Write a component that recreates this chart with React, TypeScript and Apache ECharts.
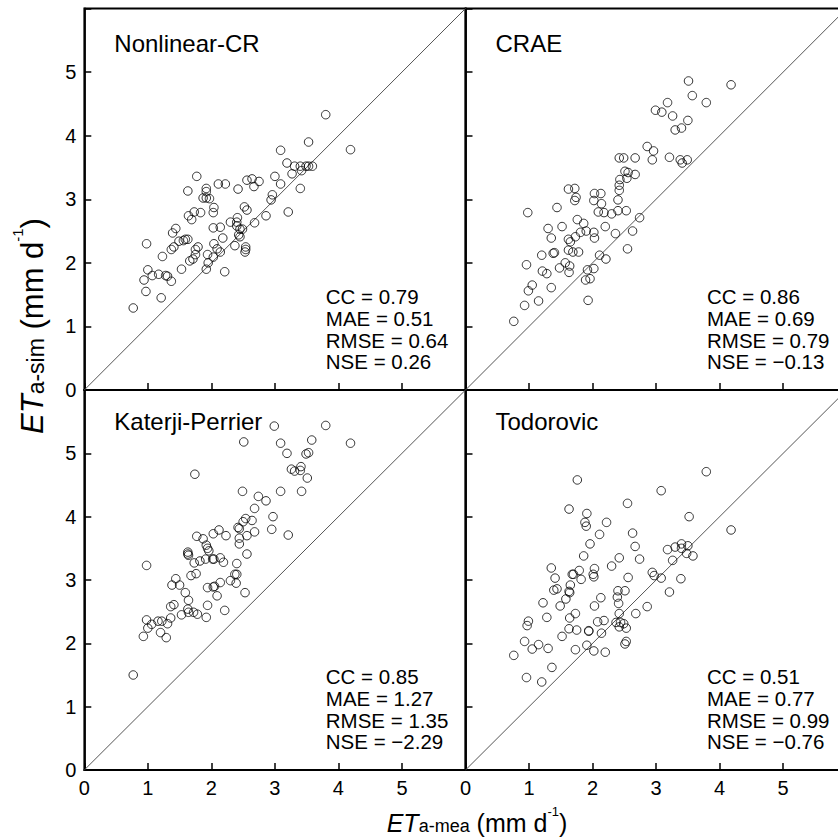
import React, { useEffect, useRef } from 'react';
import * as echarts from 'echarts';

const FONT = '"Liberation Sans", Arial, Helvetica, sans-serif';

const panelNames = ['Nonlinear-CR', 'CRAE', 'Katerji-Perrier', 'Todorovic'];
const statLabels = ['CC', 'MAE', 'RMSE', 'NSE'];
const statValues = [
  ['0.79', '0.51', '0.64', '0.26'],
  ['0.86', '0.69', '0.79', '\u22120.13'],
  ['0.85', '1.27', '1.35', '\u22122.29'],
  ['0.51', '0.77', '0.99', '\u22120.76'],
];
const axisTicks = [0, 1, 2, 3, 4, 5];
const oneToOne = [[0, 0], [6, 6]];

const nonlinearCR = [
  [3.80, 4.33], [4.19, 3.78], [3.53, 3.90], [3.09, 3.77], [3.19, 3.57], [3.31, 3.52], [3.40, 3.52], [3.49, 3.52],
  [3.53, 3.52], [3.59, 3.52], [3.42, 3.45], [3.27, 3.40], [3.40, 3.17], [3.00, 3.36], [3.09, 3.24], [2.96, 3.07],
  [2.94, 2.99], [3.21, 2.80], [2.86, 2.74], [2.68, 2.63], [2.56, 3.30], [2.64, 3.32], [2.75, 3.28], [2.67, 3.20],
  [2.42, 3.16], [2.11, 3.24], [2.22, 3.24], [1.77, 3.36], [1.63, 3.13], [1.92, 3.17], [1.92, 3.12], [1.87, 3.02],
  [1.92, 3.02], [1.97, 3.01], [2.04, 2.87], [2.03, 2.79], [2.52, 2.88], [2.56, 2.83], [1.83, 2.79], [1.73, 2.80],
  [1.64, 2.74], [1.69, 2.68], [2.03, 2.55], [2.14, 2.56], [2.30, 2.64], [2.41, 2.71], [2.40, 2.64], [2.40, 2.58],
  [2.45, 2.53], [2.49, 2.53], [2.43, 2.44], [2.45, 2.41], [2.18, 2.39], [1.44, 2.54], [1.39, 2.47], [1.59, 2.37],
  [1.63, 2.37], [1.56, 2.35], [1.49, 2.34], [1.41, 2.25], [1.37, 2.21], [1.79, 2.25], [1.75, 2.21], [1.75, 2.13],
  [1.71, 2.06], [1.66, 2.03], [1.23, 2.10], [0.98, 2.30], [2.04, 2.30], [2.09, 2.22], [2.14, 2.17], [1.94, 2.13],
  [1.95, 2.00], [2.03, 2.09], [2.37, 2.27], [2.54, 2.25], [2.54, 2.21], [2.53, 2.17], [1.92, 1.90], [2.21, 1.86],
  [1.53, 1.90], [1.00, 1.89], [0.94, 1.73], [1.07, 1.80], [1.17, 1.82], [1.28, 1.80], [1.31, 1.79], [1.37, 1.71],
  [0.97, 1.55], [1.21, 1.45], [0.77, 1.29],
];

const crae = [
  [3.51, 4.86], [4.18, 4.80], [3.57, 4.63], [3.79, 4.52], [3.18, 4.52], [2.99, 4.40], [3.09, 4.37], [3.26, 4.31],
  [3.50, 4.24], [3.40, 4.12], [3.30, 4.09], [2.86, 3.83], [2.96, 3.76], [2.94, 3.62], [3.21, 3.66], [3.38, 3.62],
  [3.41, 3.57], [3.49, 3.62], [2.42, 3.65], [2.49, 3.65], [2.67, 3.65], [2.51, 3.44], [2.56, 3.42], [2.67, 3.39],
  [2.54, 3.33], [2.43, 3.31], [2.42, 3.22], [2.42, 3.14], [2.40, 2.99], [1.62, 3.16], [1.72, 3.17], [1.74, 3.03],
  [1.72, 2.98], [0.98, 2.79], [1.44, 2.87], [2.03, 3.09], [2.13, 3.09], [2.02, 2.98], [2.14, 2.93], [2.09, 2.80],
  [2.18, 2.79], [2.30, 2.77], [2.40, 2.82], [2.53, 2.82], [2.74, 2.71], [2.63, 2.50], [2.55, 2.22], [2.36, 2.46],
  [2.20, 2.57], [1.76, 2.68], [1.86, 2.62], [1.81, 2.48], [1.90, 2.50], [2.02, 2.48], [2.03, 2.39], [1.52, 2.57],
  [1.30, 2.54], [1.35, 2.39], [1.62, 2.37], [1.65, 2.33], [1.73, 2.41], [1.62, 2.20], [1.69, 2.17], [1.78, 2.17],
  [1.20, 2.12], [1.38, 2.15], [1.40, 2.16], [0.96, 1.97], [1.57, 2.00], [1.64, 1.95], [1.48, 1.92], [1.63, 1.85],
  [1.21, 1.87], [1.28, 1.83], [2.11, 2.12], [2.21, 2.06], [1.92, 1.89], [2.02, 1.91], [1.89, 1.73], [1.96, 1.75],
  [1.05, 1.65], [0.99, 1.56], [1.35, 1.61], [1.15, 1.40], [0.93, 1.33], [1.93, 1.41], [0.76, 1.08],
];

const katerjiPerrier = [
  [2.99, 5.43], [3.80, 5.44], [3.58, 5.21], [4.19, 5.16], [2.51, 5.18], [3.09, 5.16], [3.19, 5.00], [3.49, 4.99],
  [3.53, 5.01], [3.26, 4.75], [3.31, 4.72], [3.41, 4.79], [3.40, 4.73], [3.51, 4.61], [1.74, 4.67], [2.49, 4.40],
  [3.09, 4.40], [3.42, 4.40], [2.74, 4.32], [2.86, 4.25], [2.68, 4.13], [2.97, 4.00], [2.95, 3.80], [3.21, 3.71],
  [2.54, 3.97], [2.64, 3.94], [2.50, 3.92], [2.42, 3.83], [2.44, 3.81], [2.56, 3.70], [2.68, 3.76], [2.44, 3.66],
  [2.44, 3.57], [2.56, 3.41], [2.40, 3.26], [1.77, 3.69], [1.87, 3.65], [2.03, 3.73], [2.12, 3.79], [2.23, 3.70],
  [1.92, 3.55], [1.94, 3.50], [1.96, 3.46], [1.63, 3.44], [1.63, 3.41], [1.64, 3.39], [1.73, 3.27], [1.82, 3.30],
  [1.91, 3.33], [2.02, 3.33], [2.04, 3.33], [2.14, 3.35], [2.19, 3.28], [0.98, 3.23], [1.68, 3.07], [1.76, 3.10],
  [1.44, 3.02], [1.38, 2.92], [1.50, 2.92], [1.59, 2.80], [1.64, 2.68], [1.94, 2.88], [2.03, 2.89], [2.05, 2.90],
  [2.14, 2.96], [2.09, 2.75], [2.30, 2.99], [2.37, 3.09], [2.40, 3.09], [2.39, 2.95], [2.53, 2.80], [2.21, 2.52],
  [1.36, 2.58], [1.41, 2.61], [1.63, 2.54], [1.64, 2.49], [1.72, 2.49], [1.78, 2.46], [1.92, 2.41], [1.94, 2.60],
  [1.53, 2.45], [1.36, 2.40], [1.31, 2.31], [1.22, 2.35], [1.16, 2.35], [1.06, 2.30], [0.98, 2.37], [1.00, 2.24],
  [0.93, 2.11], [1.20, 2.17], [1.29, 2.09], [0.77, 1.50],
];

const todorovic = [
  [3.79, 4.71], [1.76, 4.58], [3.08, 4.41], [2.55, 4.21], [1.63, 4.12], [1.91, 4.05], [3.52, 4.00], [1.88, 3.91],
  [1.90, 3.85], [2.22, 3.91], [4.18, 3.79], [2.11, 3.72], [2.63, 3.74], [1.96, 3.57], [2.67, 3.53], [1.86, 3.38],
  [2.42, 3.35], [2.74, 3.33], [3.18, 3.48], [3.30, 3.52], [3.40, 3.57], [3.50, 3.54], [3.40, 3.50], [3.48, 3.42],
  [3.58, 3.38], [3.26, 3.31], [2.30, 3.22], [1.35, 3.19], [1.41, 3.03], [1.79, 3.15], [1.70, 3.09], [1.68, 3.09],
  [1.82, 3.01], [2.03, 3.18], [2.01, 3.09], [2.02, 3.05], [2.94, 3.12], [2.97, 3.07], [3.08, 3.03], [3.39, 3.02],
  [3.21, 2.81], [2.56, 3.04], [1.65, 2.92], [1.39, 2.84], [1.44, 2.86], [1.63, 2.82], [1.64, 2.80], [1.58, 2.70],
  [1.49, 2.59], [1.22, 2.64], [2.40, 2.83], [2.51, 2.83], [2.39, 2.73], [2.41, 2.63], [2.13, 2.72], [2.03, 2.59],
  [2.86, 2.58], [1.28, 2.41], [1.73, 2.47], [1.64, 2.40], [2.68, 2.47], [0.99, 2.35], [0.97, 2.28], [2.08, 2.34],
  [2.18, 2.36], [2.42, 2.47], [2.37, 2.33], [2.44, 2.33], [2.49, 2.31], [2.42, 2.26], [2.53, 2.24], [2.14, 2.16],
  [1.63, 2.23], [1.75, 2.21], [1.94, 2.20], [1.94, 2.19], [1.52, 2.11], [0.93, 2.03], [1.15, 1.98], [1.05, 1.91],
  [1.30, 1.92], [0.76, 1.81], [1.91, 1.97], [1.73, 1.90], [2.02, 1.88], [2.20, 1.86], [2.53, 2.03], [2.51, 1.99],
  [1.36, 1.62], [0.96, 1.46], [1.20, 1.39],
];

const panelData = [nonlinearCR, crae, katerjiPerrier, todorovic];

export default function App() {
  const ref = useRef<HTMLDivElement>(null);

  useEffect(() => {
    if (!ref.current) return;
    const chart = echarts.init(ref.current, null, { renderer: 'svg' });

    const boxes = [
      { left: 84.3, top: 8.5, width: 381.2, height: 381.5 },
      { left: 465.5, top: 8.5, width: 381.2, height: 381.5 },
      { left: 84.3, top: 390, width: 381.2, height: 380 },
      { left: 465.5, top: 390, width: 381.2, height: 380 },
    ];
    const titleY = [43, 43, 421.5, 421.5];

    const labelFmt = (v: number) => (axisTicks.indexOf(v) >= 0 ? String(v) : '');

    const grid = boxes.map((b) => ({
      ...b,
      show: true,
      borderColor: '#000',
      borderWidth: 1.8,
      backgroundColor: 'transparent',
      containLabel: false,
    }));

    const axisCommon = (i: number, showLabel: boolean) => ({
      type: 'value',
      gridIndex: i,
      min: 0,
      max: 6,
      interval: 1,
      axisLine: { show: true, onZero: false, lineStyle: { color: '#000', width: 1.8 } },
      axisTick: { show: true, inside: true, length: 7, lineStyle: { color: '#000', width: 1.5 } },
      axisLabel: {
        show: showLabel,
        formatter: labelFmt,
        margin: 8,
        fontSize: 20,
        color: '#000',
        fontFamily: FONT,
      },
      splitLine: { show: false },
    });

    const xAxis = boxes.map((_, i) => axisCommon(i, i >= 2));
    const yAxis = boxes.map((_, i) => axisCommon(i, i % 2 === 0));

    const series: any[] = [];
    panelData.forEach((d, i) => {
      series.push({
        type: 'line',
        xAxisIndex: i,
        yAxisIndex: i,
        data: oneToOne,
        symbol: 'none',
        lineStyle: { color: '#555', width: 1 },
        silent: true,
        z: 1,
      });
      series.push({
        type: 'scatter',
        name: panelNames[i],
        xAxisIndex: i,
        yAxisIndex: i,
        data: d,
        symbol: 'circle',
        symbolSize: 8.5,
        itemStyle: { color: 'rgba(0,0,0,0)', borderColor: '#000', borderWidth: 1 },
        z: 3,
      });
    });

    const graphics: any[] = [];
    boxes.forEach((b, i) => {
      graphics.push({
        type: 'text',
        x: b.left + 30,
        y: titleY[i],
        style: {
          text: panelNames[i],
          fontSize: 24,
          fontFamily: FONT,
          fill: '#000',
          verticalAlign: 'middle',
          align: 'left',
        },
      });
      const bottom = b.top + b.height;
      graphics.push({
        type: 'text',
        x: b.left + 241.5,
        y: bottom - 104,
        style: {
          text: statLabels.map((l, k) => `${l} = ${statValues[i][k]}`).join('\n'),
          fontSize: 20.5,
          lineHeight: 21.7,
          fontFamily: FONT,
          fill: '#000',
          verticalAlign: 'top',
          align: 'left',
        },
      });
    });

    const richTitle = (big: number, small: number, sup: number) => ({
      et: { fontSize: big, fontStyle: 'italic', fontFamily: FONT, fill: '#000', verticalAlign: 'bottom', lineHeight: big * 1.2 },
      sub: { fontSize: small, fontFamily: FONT, fill: '#000', verticalAlign: 'bottom', lineHeight: small * 1.2 + big * 0.05 },
      n: { fontSize: big, fontFamily: FONT, fill: '#000', verticalAlign: 'bottom', lineHeight: big * 1.2 },
      sup: { fontSize: sup, fontFamily: FONT, fill: '#000', verticalAlign: 'top', lineHeight: sup * 1.2 },
    });

    graphics.push({
      type: 'text',
      x: 477,
      y: 820,
      style: {
        text: '{et|ET}{sub|a-mea}{n| (mm d}{sup|-1}{n|)}',
        rich: richTitle(25, 18, 13),
        align: 'center',
        verticalAlign: 'middle',
      },
    });
    graphics.push({
      type: 'text',
      x: 29,
      y: 326,
      rotation: Math.PI / 2,
      style: {
        text: '{et|ET}{sub|a-sim}{n| (mm d}{sup|-1}{n|)}',
        rich: richTitle(31, 23, 15),
        align: 'center',
        verticalAlign: 'middle',
      },
    });

    chart.setOption({
      animation: false,
      backgroundColor: '#fff',
      grid,
      xAxis,
      yAxis,
      series,
      graphic: { elements: graphics },
    });

    return () => chart.dispose();
  }, []);

  return (
    <div style={{ position: 'absolute', left: 0, top: 0, width: 838, height: 837, overflow: 'hidden' }}>
      <div ref={ref} style={{ width: 860, height: 837 }} />
    </div>
  );
}
